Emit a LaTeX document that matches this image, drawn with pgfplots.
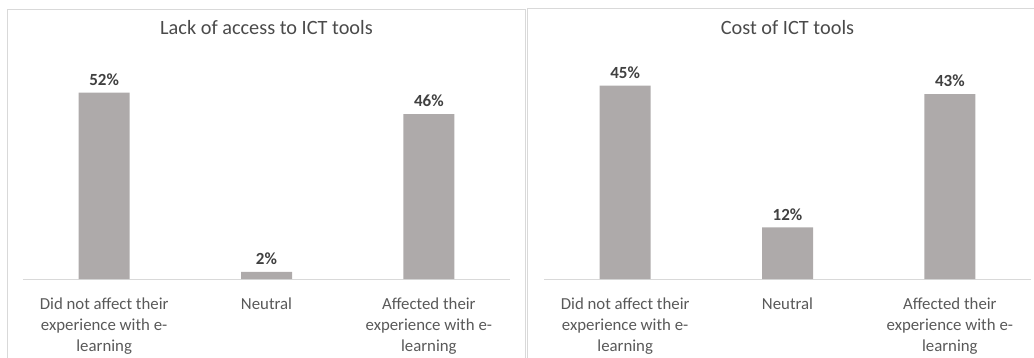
\documentclass[border=0pt]{standalone}
\usepackage{pgfplots}
\pgfplotsset{compat=1.18}
\usepackage{fontspec}
\setmainfont{Carlito}
\definecolor{barc}{HTML}{AEAAAA}
\definecolor{txt}{HTML}{595959}
\definecolor{ttl}{HTML}{4A4A4A}
\definecolor{lbl}{HTML}{404040}
\definecolor{frame}{HTML}{D9D9D9}
\pgfplotsset{
  panel/.style={
    scale only axis, width=487pt, height=215pt, anchor=south west,
    xmin=-0.5, xmax=2.5, ymin=0,
    axis y line=none, axis x line*=bottom,
    x axis line style={frame, line width=1pt, -},
    xtick={0,1,2}, major tick length=0pt,
    xticklabels={{Did not affect their\\experience with e-\\learning},{Neutral},{Affected their\\experience with e-\\learning}},
    xticklabel style={align=center, anchor=north, inner sep=0pt, yshift=-18.5pt,
      font=\fontsize{16.8}{21}\selectfont, text=txt},
    ybar, bar width=51pt,
    /pgf/number format/assume math mode=true,
    nodes near coords={\pgfmathprintnumber{\pgfplotspointmeta}\%},
    every node near coord/.append style={anchor=south, inner sep=0pt, yshift=7pt,
      font=\bfseries\fontsize{17}{20}\selectfont, text=lbl},
    title style={at={(axis description cs:0.5,1)}, anchor=center, yshift=30pt,
      font=\fontsize{20.3}{24}\selectfont, text=ttl},
    clip=false,
  }
}
\begin{document}
\begin{tikzpicture}[x=1pt,y=1pt]
\useasboundingbox (0,0) rectangle (1034,-358);
\draw[frame, line width=1pt] (7,-358) -- (7,-10) -- (525,-10) -- (525,-358);
\draw[frame, line width=1pt] (527,-358) -- (527,-9) -- (1034,-9);
\begin{axis}[panel, at={(23pt,-279pt)}, ymax=60, title={Lack of access to ICT tools}]
\addplot[fill=barc, draw=none] coordinates {(0,52) (1,2) (2,46)};
\end{axis}
\begin{axis}[panel, at={(544pt,-279pt)}, ymax=50, title={Cost of ICT tools}]
\addplot[fill=barc, draw=none] coordinates {(0,45) (1,12) (2,43)};
\end{axis}
\end{tikzpicture}
\end{document}
